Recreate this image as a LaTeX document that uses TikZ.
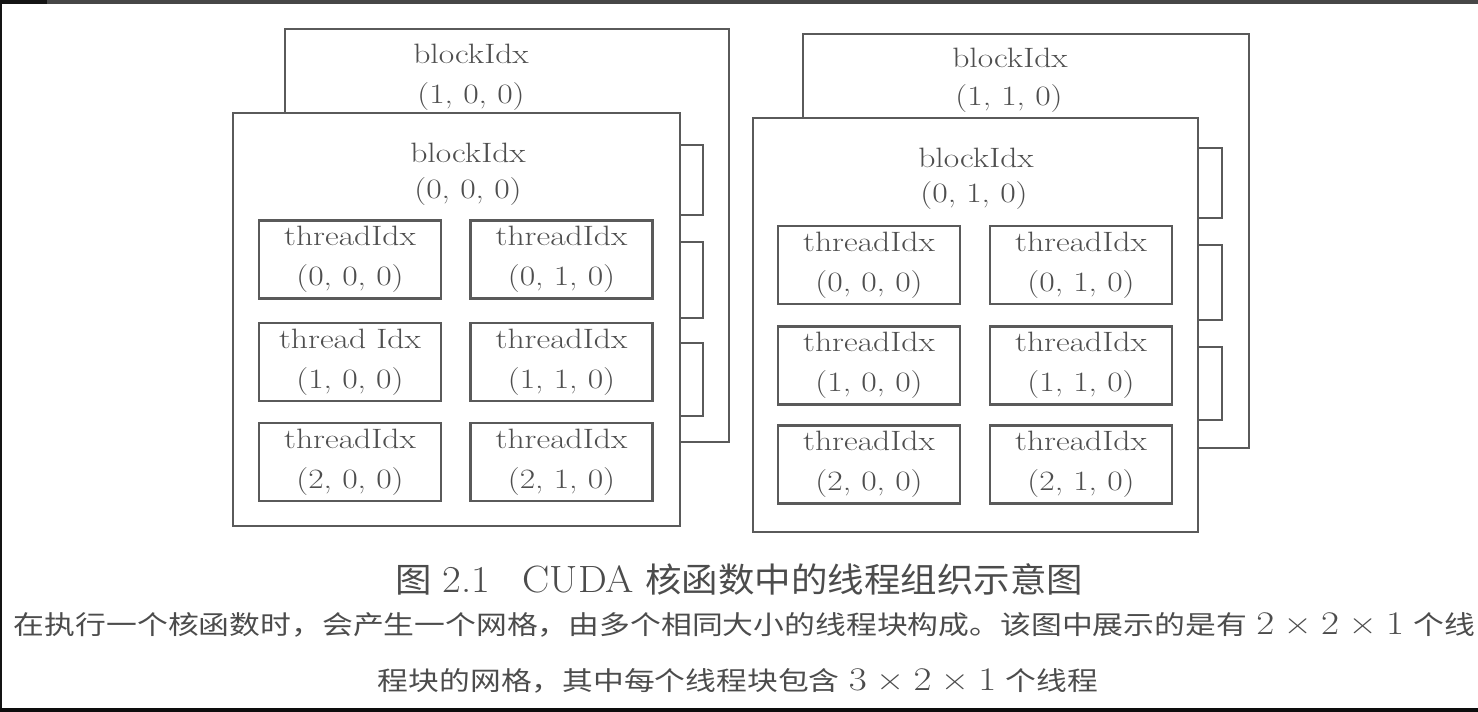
\documentclass[tikz,border=0pt]{standalone}
\usepackage{fontspec}
\newfontfamily\cjk{Noto Sans CJK SC}
\definecolor{ink}{HTML}{5A5A5A}
\definecolor{txt}{HTML}{4E4E4E}
\definecolor{captxt}{HTML}{4C4C4C}
% Latin labels are set slightly wide
\newcommand{\hstr}[1]{\scalebox{1.2}[1]{#1}}
% a product of dimensions, set in the text font
\newcommand{\dims}[3]{{\fontsize{33}{33}\selectfont #1\hspace{0.24em}×\hspace{0.24em}#2\hspace{0.24em}×\hspace{0.24em}#3}}

\begin{document}
\begin{tikzpicture}[x=1pt,y=-1pt,
  frame/.style={draw=ink, line width=2pt, fill=white, inner sep=0pt, outer sep=0pt},
  thread/.style={draw=ink, line width=2.2pt, fill=white, inner sep=0pt,
    minimum width=182pt, minimum height=78pt, align=center, text=txt,
    font=\fontsize{28}{40}\selectfont},
  lbl/.style={anchor=base, text=txt, inner sep=0pt, font=\fontsize{28}{40}\selectfont},
  captext/.style={anchor=base, text=captxt, inner sep=0pt}]

% page and dark edges
\useasboundingbox (0,0) rectangle (1478,712);
\fill[white] (0,0) rectangle (1478,712);
\fill[black!72] (0,0) rectangle (1478,4);
\fill[black!92] (0,0) rectangle (47,4);
\fill[black!92] (0,0) rectangle (2,712);
\fill[black!95] (0,708) rectangle (1478,712);

% ---------- left stack of blocks ----------
\node[frame, minimum width=444pt, minimum height=413pt] (b100) at (507,235.5) {};
\node[lbl] (b100t) at (471,63) {\hstr{blockIdx}};
\node[lbl] (b100i) at (471,103) {\hstr{(1, 0, 0)}};

\node[frame, minimum width=33pt, minimum height=70pt] (tabLa) at (686.5,180) {};
\node[frame, minimum width=33pt, minimum height=76pt] (tabLb) at (686.5,280) {};
\node[frame, minimum width=33pt, minimum height=73pt] (tabLc) at (686.5,379.5) {};

\node[frame, minimum width=447pt, minimum height=413pt] (b000) at (456.5,319.5) {};
\node[lbl] (b000t) at (468,162) {\hstr{blockIdx}};
\node[lbl] (b000i) at (468,198) {\hstr{(0, 0, 0)}};

\node[thread] (L000) at (350,259.5) {\hstr{threadIdx}\\\hstr{(0, 0, 0)}};
\node[thread] (L010) at (561.5,259.5) {\hstr{threadIdx}\\\hstr{(0, 1, 0)}};
\node[thread] (L100) at (350,362) {\hstr{thread Idx}\\\hstr{(1, 0, 0)}};
\node[thread] (L110) at (561.5,362) {\hstr{threadIdx}\\\hstr{(1, 1, 0)}};
\node[thread] (L200) at (350,462) {\hstr{threadIdx}\\\hstr{(2, 0, 0)}};
\node[thread] (L210) at (561.5,462) {\hstr{threadIdx}\\\hstr{(2, 1, 0)}};

% ---------- right stack of blocks ----------
\node[frame, minimum width=446pt, minimum height=414pt] (b110) at (1026,241) {};
\node[lbl] (b110t) at (1010,67) {\hstr{blockIdx}};
\node[lbl] (b110i) at (1009,105) {\hstr{(1, 1, 0)}};

\node[frame, minimum width=34pt, minimum height=70pt] (tabRa) at (1205,183) {};
\node[frame, minimum width=34pt, minimum height=75pt] (tabRb) at (1205,282.5) {};
\node[frame, minimum width=34pt, minimum height=73pt] (tabRc) at (1205,383.5) {};

\node[frame, minimum width=445pt, minimum height=414pt] (b010) at (975.5,325) {};
\node[lbl] (b010t) at (976,167) {\hstr{blockIdx}};
\node[lbl] (b010i) at (974,202) {\hstr{(0, 1, 0)}};

\node[thread] (R000) at (869,265) {\hstr{threadIdx}\\\hstr{(0, 0, 0)}};
\node[thread] (R010) at (1081,265) {\hstr{threadIdx}\\\hstr{(0, 1, 0)}};
\node[thread] (R100) at (869,365.5) {\hstr{threadIdx}\\\hstr{(1, 0, 0)}};
\node[thread] (R110) at (1081,365.5) {\hstr{threadIdx}\\\hstr{(1, 1, 0)}};
\node[thread] (R200) at (869,464.5) {\hstr{threadIdx}\\\hstr{(2, 0, 0)}};
\node[thread] (R210) at (1081,464.5) {\hstr{threadIdx}\\\hstr{(2, 1, 0)}};

% ---------- caption ----------
\node[captext] (cap) at (739,592) {\resizebox{688pt}{\height}{\fontsize{34}{34}\selectfont
  {\cjk 图}\ {\fontsize{38}{38}\selectfont 2.1\hspace{0.8em}CUDA}\ {\cjk 核函数中的线程组织示意图}}};
\node[captext] (desc1) at (744.5,634) {\resizebox{1461pt}{\height}{\fontsize{26}{26}\selectfont
  {\cjk 在执行一个核函数时，会产生一个网格，由多个相同大小的线程块构成。该图中展示的是有}\ \dims{2}{2}{1}\ {\cjk 个线}}};
\node[captext] (desc2) at (738,690) {\resizebox{720pt}{\height}{\fontsize{26}{26}\selectfont
  {\cjk 程块的网格，其中每个线程块包含}\ \dims{3}{2}{1}\ {\cjk 个线程}}};
\end{tikzpicture}
\end{document}
